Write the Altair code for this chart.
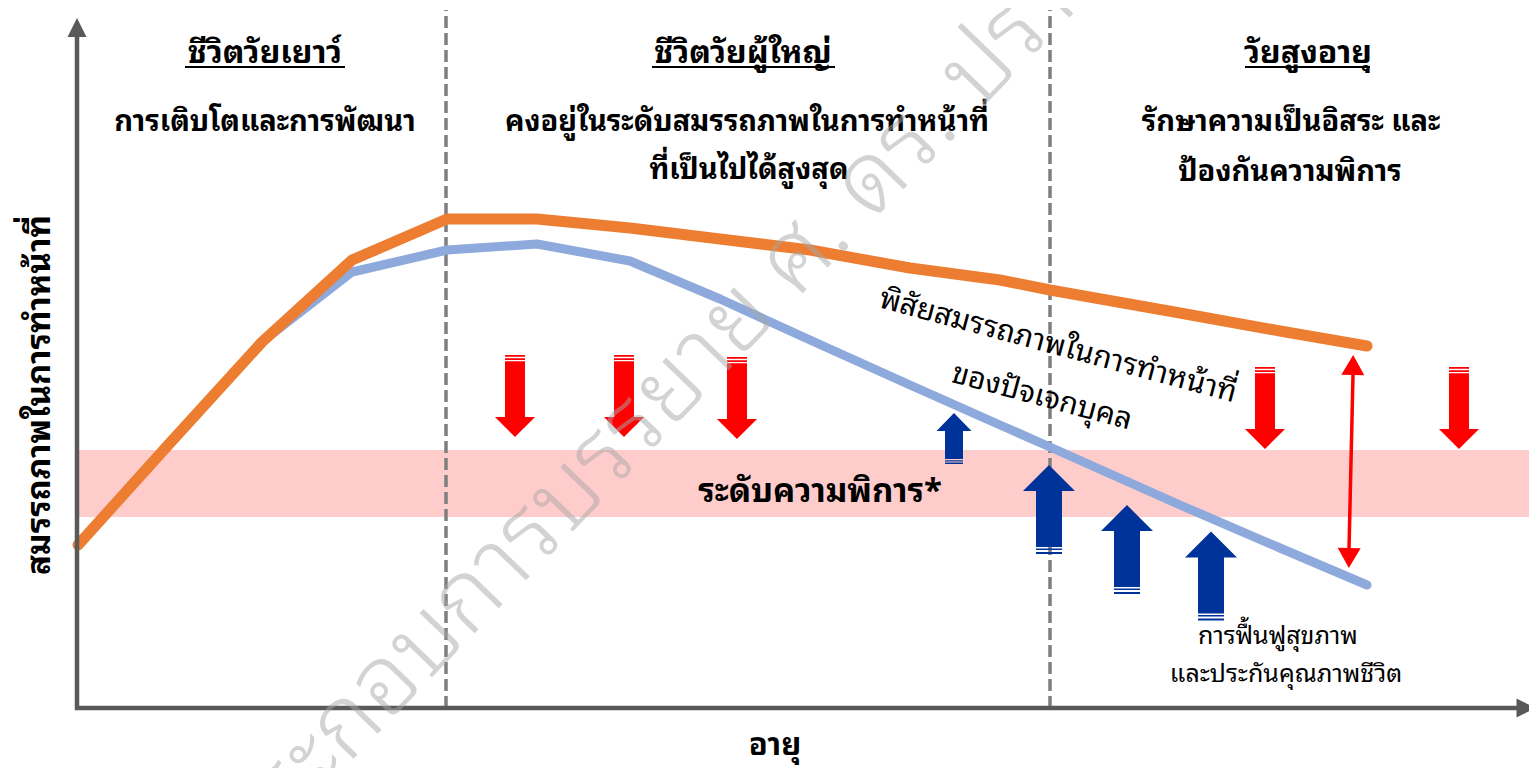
import altair as alt
import pandas as pd

# ---- diagram coordinate system (age along x, functional capacity along y) ----
X_DOMAIN = [-69, 1452]
Y_DOMAIN = [-60, 700]
W, H = 1521, 760
FONT = "Tahoma, 'Noto Sans Thai Looped', Loma, Garuda, 'Noto Sans Thai', 'Noto Sans Thai UI', 'Noto Sans', sans-serif"

# ---- data ----
age_pts = [1, 93, 185, 275, 370, 460, 553, 643, 733, 833, 923, 973, 1103, 1203, 1290]
peak_capacity = [163, 265, 366, 448, 489, 489, 480, 469, 458, 440, 428, 418, 395, 377, 362]
individual_capacity = [163, 265, 366, 436, 458, 464, 447, 409, 368, 323, 283, 261, 203, 160, 123]

band_x = [0, 1460]
band_y = [191, 258]

stage_bounds = [369, 973]
stage_top = 698

axis_x = [0, 0, 1440]
axis_y = [672, 0, 0]

stage_titles = ["ชีวิตวัยเยาว์", "ชีวิตวัยผู้ใหญ่", "วัยสูงอายุ"]
stage_title_x = [188, 666, 1231]
stage_title_y = [655, 655, 655]
underline_x1 = [108, 575, 1168]
underline_x2 = [268, 758, 1293]
underline_y = [641, 641, 641]

stage_desc = ["การเติบโตและการพัฒนา",
              "คงอยู่ในระดับสมรรถภาพในการทำหน้าที่",
              "ที่เป็นไปได้สูงสุด",
              "รักษาความเป็นอิสระ และ",
              "ป้องกันความพิการ"]
stage_desc_x = [188, 670, 672, 1214, 1213]
stage_desc_y = [586, 586, 538, 586, 536]

down_x = [438, 547, 660, 1188, 1382]
down_y = [312, 312, 310, 300, 300]
up_big_x = [972, 1050, 1134]
up_big_y = [198.5, 158.5, 132]
up_small_x = [877]
up_small_y = [269.5]

range_shaft_x = [1276, 1272]
range_shaft_y = [333, 159]
range_head_up = (1276, 343)
range_head_down = (1272, 150)

yaxis_head = (0, 680.5)
xaxis_head = (1449, 0)

band_label = "ระดับความพิการ*"
band_label_pos = (743, 216)
range_label = ["พิสัยสมรรถภาพในการทำหน้าที่", "ของปัจเจกบุคล"]
range_label_x = [981, 965]
range_label_y = [362, 311]
rehab_label = ["การฟื้นฟูสุขภาพ", "และประกันคุณภาพชีวิต"]
rehab_label_x = [1201, 1209]
rehab_label_y = [72, 34]
x_title = "อายุ"
x_title_pos = (698, -38)
y_title = "สมรรถภาพในการทำหน้าที่"
y_title_pos = (-37, 313)
watermark = "ประกอบการบรรยาย ศ. ดร. ปราโมทย์ ปราสาทกุล"
watermark_pos = (149, -141)

# ---- helpers ----
xs = alt.Scale(domain=X_DOMAIN, nice=False, zero=False)
ys = alt.Scale(domain=Y_DOMAIN, nice=False, zero=False)


def X(f="x"):
    return alt.X(f, type="quantitative", scale=xs, axis=None)


def Y(f="y"):
    return alt.Y(f, type="quantitative", scale=ys, axis=None)


RED_DOWN = ("M-0.244,-1L0.244,-1L0.244,-0.959L-0.244,-0.959Z "
            "M-0.244,-0.92L0.244,-0.92L0.244,-0.878L-0.244,-0.878Z "
            "M-0.244,-0.846L0.244,-0.846L0.244,0.512L0.488,0.512L0,1L-0.488,0.512L-0.244,0.512Z")
BLUE_UP = ("M0,-1L0.584,-0.416L0.292,-0.416L0.292,0.843L-0.292,0.843L-0.292,-0.416L-0.584,-0.416Z "
           "M-0.292,0.876L0.292,0.876L0.292,0.91L-0.292,0.91Z "
           "M-0.292,0.955L0.292,0.955L0.292,1L-0.292,1Z")
BLUE_UP_SMALL = ("M0,-1L0.686,-0.294L0.353,-0.294L0.353,0.8L-0.353,0.8L-0.353,-0.294L-0.686,-0.294Z "
                 "M-0.353,0.85L0.353,0.85L0.353,0.9L-0.353,0.9Z "
                 "M-0.353,0.94L0.353,0.94L0.353,1L-0.353,1Z")
TRI_UP = "M0,-0.87L1,0.87L-1,0.87Z"
TRI_DOWN = "M0,0.87L1,-0.87L-1,-0.87Z"
TRI_RIGHT = "M1,0L-1,-1L-1,1Z"
TRI_UP_AX = "M0,-1L1,1L-1,1Z"

# ---- layers ----
band = alt.Chart(pd.DataFrame({"x": [band_x[0]], "x2": [band_x[1]],
                               "y": [band_y[0]], "y2": [band_y[1]]})).mark_rect(
    color="#FFCCCC").encode(x=X(), x2="x2", y=Y(), y2="y2")

dividers = alt.Chart(pd.DataFrame({"x": stage_bounds, "y": [0] * 2, "y2": [stage_top] * 2})).mark_rule(
    color="#7F7F7F", strokeWidth=3.5, strokeDash=[12, 5]).encode(x=X(), y=Y(), y2="y2")

lines_df = pd.DataFrame({"x": age_pts * 2,
                         "y": individual_capacity + peak_capacity,
                         "s": ["individual"] * len(age_pts) + ["peak"] * len(age_pts)})
blue_line = alt.Chart(lines_df[lines_df.s == "individual"]).mark_line(
    color="#8EA9DB", strokeWidth=9, strokeCap="round", strokeJoin="round").encode(x=X(), y=Y())
orange_line = alt.Chart(lines_df[lines_df.s == "peak"]).mark_line(
    color="#ED7D31", strokeWidth=11, strokeCap="round", strokeJoin="round").encode(x=X(), y=Y())

axes_line = alt.Chart(pd.DataFrame({"x": axis_x, "y": axis_y, "o": [0, 1, 2]})).mark_line(
    color="#595959", strokeWidth=4.5, strokeJoin="miter").encode(x=X(), y=Y(), order="o:Q")
yhead = alt.Chart(pd.DataFrame({"x": [yaxis_head[0]], "y": [yaxis_head[1]]})).mark_point(
    shape=TRI_UP_AX, size=361, filled=True, color="#595959", opacity=1, strokeWidth=0).encode(x=X(), y=Y())
xhead = alt.Chart(pd.DataFrame({"x": [xaxis_head[0]], "y": [xaxis_head[1]]})).mark_point(
    shape=TRI_RIGHT, size=361, filled=True, color="#595959", opacity=1, strokeWidth=0).encode(x=X(), y=Y())

down_arrows = alt.Chart(pd.DataFrame({"x": down_x, "y": down_y})).mark_point(
    shape=RED_DOWN, size=82 * 82, filled=True, color="#FF0000", opacity=1, strokeWidth=0).encode(x=X(), y=Y())
up_big = alt.Chart(pd.DataFrame({"x": up_big_x, "y": up_big_y})).mark_point(
    shape=BLUE_UP, size=89 * 89, filled=True, color="#003399", opacity=1, strokeWidth=0).encode(x=X(), y=Y())
up_small = alt.Chart(pd.DataFrame({"x": up_small_x, "y": up_small_y})).mark_point(
    shape=BLUE_UP_SMALL, size=51 * 51, filled=True, color="#003399", opacity=1, strokeWidth=0).encode(x=X(), y=Y())

range_shaft = alt.Chart(pd.DataFrame({"x": range_shaft_x, "y": range_shaft_y})).mark_line(
    color="#FF0000", strokeWidth=3.5).encode(x=X(), y=Y())
range_heads = alt.layer(
    alt.Chart(pd.DataFrame({"x": [range_head_up[0]], "y": [range_head_up[1]]})).mark_point(
        shape=TRI_UP, size=529, filled=True, color="#FF0000", opacity=1, strokeWidth=0, angle=1).encode(x=X(), y=Y()),
    alt.Chart(pd.DataFrame({"x": [range_head_down[0]], "y": [range_head_down[1]]})).mark_point(
        shape=TRI_DOWN, size=529, filled=True, color="#FF0000", opacity=1, strokeWidth=0, angle=1).encode(x=X(), y=Y()),
)

titles = alt.Chart(pd.DataFrame({"x": stage_title_x, "y": stage_title_y, "t": stage_titles})).mark_text(
    font=FONT, fontSize=32, fontWeight="bold", color="black", baseline="middle").encode(x=X(), y=Y(), text="t")
underlines = alt.Chart(pd.DataFrame({"x": underline_x1, "x2": underline_x2, "y": underline_y})).mark_rule(
    color="black", strokeWidth=2).encode(x=X(), x2="x2", y=Y())
descs = alt.Chart(pd.DataFrame({"x": stage_desc_x, "y": stage_desc_y, "t": stage_desc})).mark_text(
    font=FONT, fontSize=29, fontWeight="bold", color="black", baseline="middle").encode(x=X(), y=Y(), text="t")

band_text = alt.Chart(pd.DataFrame({"x": [band_label_pos[0]], "y": [band_label_pos[1]], "t": [band_label]})).mark_text(
    font=FONT, fontSize=33, fontWeight="bold", color="black", baseline="middle").encode(x=X(), y=Y(), text="t")
range_text = alt.Chart(pd.DataFrame({"x": range_label_x, "y": range_label_y, "t": range_label})).mark_text(
    font=FONT, fontSize=30, color="black", baseline="middle", angle=15).encode(x=X(), y=Y(), text="t")
rehab_text = alt.Chart(pd.DataFrame({"x": rehab_label_x, "y": rehab_label_y, "t": rehab_label})).mark_text(
    font=FONT, fontSize=25, color="black", baseline="middle").encode(x=X(), y=Y(), text="t")
xt = alt.Chart(pd.DataFrame({"x": [x_title_pos[0]], "y": [x_title_pos[1]], "t": [x_title]})).mark_text(
    font=FONT, fontSize=31, fontWeight="bold", color="black", baseline="middle").encode(x=X(), y=Y(), text="t")
yt = alt.Chart(pd.DataFrame({"x": [y_title_pos[0]], "y": [y_title_pos[1]], "t": [y_title]})).mark_text(
    font=FONT, fontSize=33, fontWeight="bold", color="black", baseline="middle", angle=270).encode(x=X(), y=Y(), text="t")
wm = alt.Chart(pd.DataFrame({"x": [watermark_pos[0]], "y": [watermark_pos[1]], "t": [watermark]})).mark_text(
    font=FONT, fontSize=97, fontWeight=300, color="#A8A8A8", opacity=0.5, baseline="middle", align="left",
    angle=314).encode(x=X(), y=Y(), text="t")

chart = alt.layer(
    band, dividers, blue_line, orange_line, axes_line, yhead, xhead,
    down_arrows, up_big, up_small, range_shaft, range_heads,
    titles, underlines, descs, band_text, range_text, rehab_text, xt, yt, wm,
).properties(width=W, height=H, autosize="none", padding=0).configure_view(strokeWidth=0)

chart.save("out.html", embed_options={"renderer": "svg", "actions": False})
